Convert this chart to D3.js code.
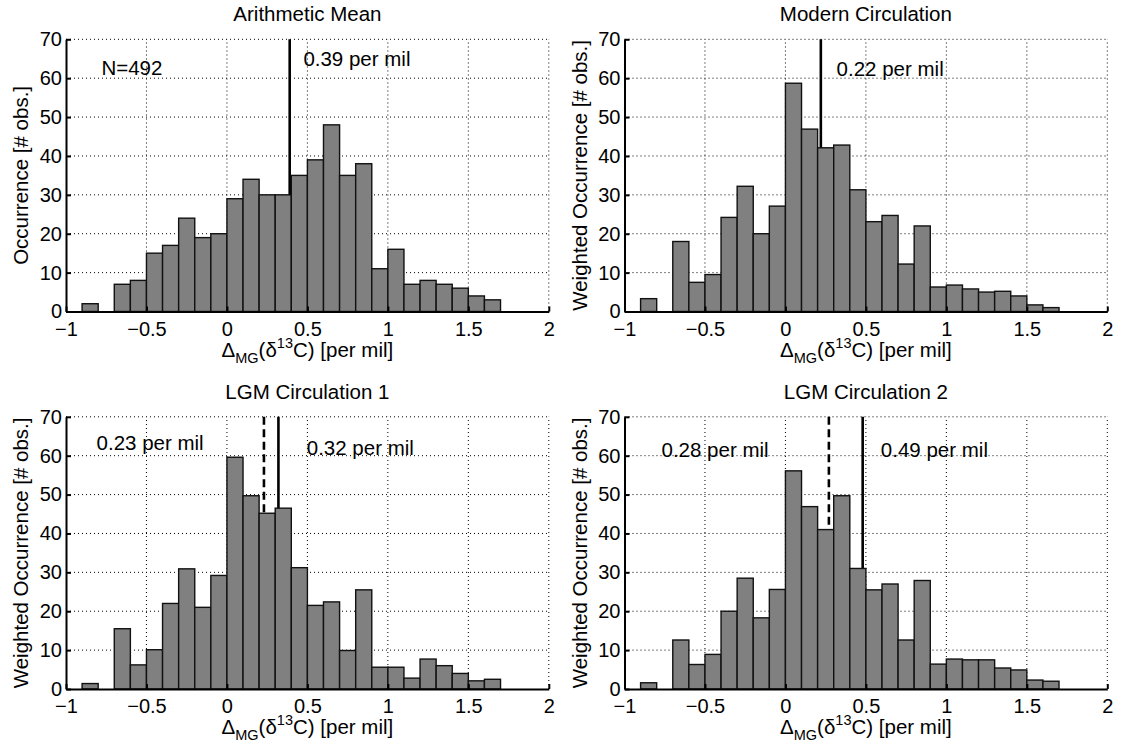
<!DOCTYPE html>
<html>
<head>
<meta charset="utf-8">
<script src="https://cdn.jsdelivr.net/npm/d3@7"></script>
<style>
  body { margin: 0; background: #fff; }
  svg { display: block; font-family: "Liberation Sans", Arial, Helvetica, sans-serif; }
  .grid line { stroke: #000; stroke-width: 1; stroke-dasharray: 1,3; }
  .axis path, .axis line { stroke: #000; stroke-width: 2; }
  .axis text { font-size: 20px; fill: #000; }
</style>
</head>
<body>
<svg id="chart" width="1122" height="747"></svg>
<script>
// bin left edges (bin width 0.1 per mil)
const binLeft = [-0.9, -0.8, -0.7, -0.6, -0.5, -0.4, -0.3, -0.2, -0.1, 0.0, 0.1, 0.2, 0.3,
                 0.4, 0.5, 0.6, 0.7, 0.8, 0.9, 1.0, 1.1, 1.2, 1.3, 1.4, 1.5, 1.6];
const binWidth = 0.1;

const arithmeticCounts = [2, 0, 7, 8, 15, 17, 24, 19, 20, 29, 34, 30, 30,
                          35, 39, 48, 35, 38, 11, 16, 7, 8, 7, 6, 4, 3];
const modernWeighted = [3.3, 0, 18.0, 7.5, 9.5, 24.2, 32.2, 20.0, 27.1, 58.7, 46.9, 42.1, 42.8,
                        31.3, 23.1, 24.7, 12.2, 22.0, 6.3, 6.8, 5.8, 5.0, 5.2, 4.0, 1.7, 1.0];
const lgm1Weighted = [1.4, 0, 15.5, 6.2, 10.1, 22.0, 30.9, 21.0, 29.2, 59.6, 49.7, 45.2, 46.5,
                      31.2, 21.5, 22.4, 9.9, 25.5, 5.6, 5.6, 2.8, 7.7, 6.0, 4.0, 2.1, 2.5];
const lgm2Weighted = [1.6, 0, 12.6, 6.3, 8.9, 20.0, 28.5, 18.3, 25.6, 56.1, 46.9, 41.0, 49.7,
                      31.0, 25.5, 27.0, 12.6, 27.9, 6.4, 7.7, 7.5, 7.5, 5.4, 4.9, 2.3, 2.0];

const titles = ["Arithmetic Mean", "Modern Circulation", "LGM Circulation 1", "LGM Circulation 2"];
const yLabels = ["Occurrence [# obs.]", "Weighted Occurrence [# obs.]",
                 "Weighted Occurrence [# obs.]", "Weighted Occurrence [# obs.]"];

// vertical marker lines: position and style
const markerLines = [
    [{ v: 0.39, dash: false }],
    [{ v: 0.22, dash: false }],
    [{ v: 0.23, dash: true }, { v: 0.32, dash: false }],
    [{ v: 0.27, dash: true }, { v: 0.48, dash: false }]
];
// annotations in data coords
const notes = [
    [{ x: -0.78, y: 60.8, t: "N=492" }, { x: 0.475, y: 63.1, t: "0.39 per mil" }],
    [{ x: 0.318, y: 60.6, t: "0.22 per mil" }],
    [{ x: -0.81, y: 61.4, t: "0.23 per mil" }, { x: 0.496, y: 60.2, t: "0.32 per mil" }],
    [{ x: -0.77, y: 59.6, t: "0.28 per mil" }, { x: 0.593, y: 59.6, t: "0.49 per mil" }]
];

const xTicks = [-1, -0.5, 0, 0.5, 1, 1.5, 2];
const yTicks = [0, 10, 20, 30, 40, 50, 60, 70];

const seriesList = [arithmeticCounts, modernWeighted, lgm1Weighted, lgm2Weighted];
const panelX = [66, 624.5];
const panelY = [39.3, 416.8];
const pw = 482.8, ph = 272.2;

const svg = d3.select("#chart");
const fmt = d => d < 0 ? "\u2212" + Math.abs(d) : String(d);

const drawPanel = (i) => {
    const x0 = panelX[i % 2], y0 = panelY[Math.floor(i / 2)];
    const x = d3.scaleLinear().domain([-1, 2]).range([x0, x0 + pw]);
    const y = d3.scaleLinear().domain([0, 70]).range([y0 + ph, y0]);
    const g = svg.append("g");

    // dotted grid
    const grid = g.append("g").attr("class", "grid");
    grid.selectAll("line.gx")
        .data(xTicks.slice(1))
        .enter().append("line")
        .attr("x1", d => x(d)).attr("x2", d => x(d))
        .attr("y1", y(0)).attr("y2", y(70));
    grid.selectAll("line.gy")
        .data(yTicks.slice(1))
        .enter().append("line")
        .attr("x1", x(-1)).attr("x2", x(2))
        .attr("y1", d => y(d)).attr("y2", d => y(d));

    // marker lines (behind the bars)
    g.selectAll("line.marker")
        .data(markerLines[i])
        .enter().append("line")
        .attr("x1", d => x(d.v)).attr("x2", d => x(d.v))
        .attr("y1", y(70)).attr("y2", y(0))
        .attr("stroke", "#000")
        .attr("stroke-width", 2.6)
        .attr("stroke-dasharray", d => d.dash ? "8,4.5" : null);

    // bars
    const data = binLeft.map((b, k) => ({ b, v: seriesList[i][k] })).filter(d => d.v > 0);
    g.selectAll("rect")
        .data(data)
        .enter().append("rect")
        .attr("x", d => x(d.b))
        .attr("width", d => x(d.b + binWidth) - x(d.b))
        .attr("y", d => y(d.v))
        .attr("height", d => y(0) - y(d.v))
        .attr("fill", "#808080")
        .attr("stroke", "#111")
        .attr("stroke-width", 1.4);

    // axes
    g.append("g").attr("class", "axis")
        .attr("transform", `translate(0,${y(0)})`)
        .call(d3.axisBottom(x).tickValues(xTicks).tickFormat(fmt).tickSize(-5).tickSizeOuter(0).tickPadding(10));
    g.append("g").attr("class", "axis")
        .attr("transform", `translate(${x0},0)`)
        .call(d3.axisLeft(y).tickValues(yTicks).tickSize(-5).tickSizeOuter(0).tickPadding(4));
    g.selectAll(".axis text").attr("font-family", null);

    // title
    g.append("text")
        .attr("x", x(0.5)).attr("y", y0 - 18)
        .attr("text-anchor", "middle")
        .attr("font-size", 20.5)
        .text(titles[i]);

    // y label
    g.append("text")
        .attr("transform", `translate(${x0 - 38},${y(35)}) rotate(-90)`)
        .attr("text-anchor", "middle")
        .attr("font-size", 20.5)
        .text(yLabels[i]);

    // x label with sub/superscript
    const xl = g.append("text")
        .attr("x", x(0.5)).attr("y", y(0) + 45)
        .attr("text-anchor", "middle")
        .attr("font-size", 20.5);
    xl.append("tspan").text("\u0394");
    xl.append("tspan").attr("dy", 6).attr("font-size", 14.5).text("MG");
    xl.append("tspan").attr("dy", -6).text("(\u03b4");
    xl.append("tspan").attr("dy", -9).attr("font-size", 14.5).text("13");
    xl.append("tspan").attr("dy", 9).text("C) [per mil]");

    // annotations
    g.selectAll("text.note")
        .data(notes[i])
        .enter().append("text")
        .attr("x", d => x(d.x)).attr("y", d => y(d.y))
        .attr("font-size", 20.5)
        .text(d => d.t);
};

[0, 1, 2, 3].forEach(drawPanel);
</script>
</body>
</html>
